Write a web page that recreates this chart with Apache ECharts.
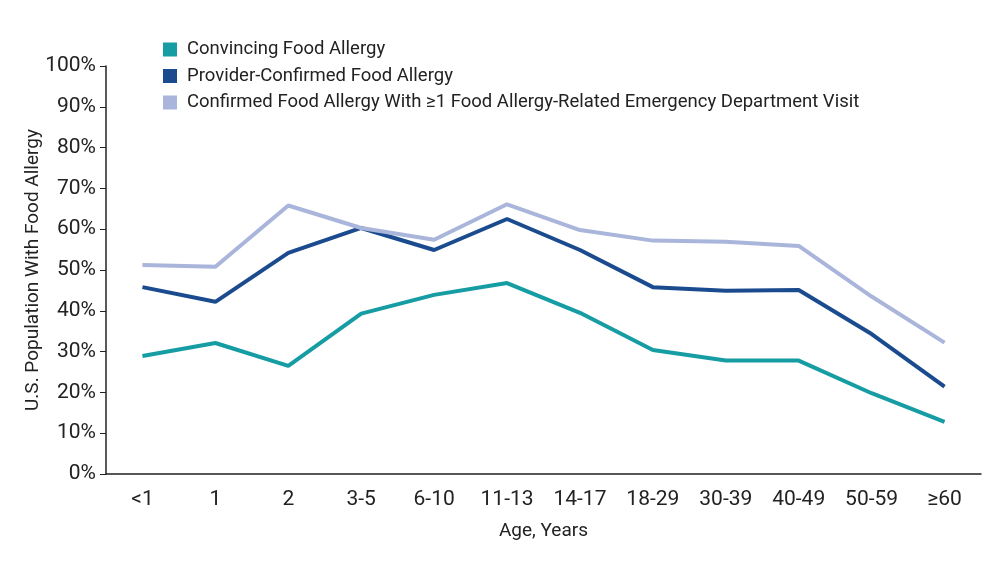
<!DOCTYPE html>
<html><head><meta charset="utf-8">
<script src="https://cdn.jsdelivr.net/npm/echarts@6/dist/echarts.min.js"></script>
<style>html,body{margin:0;padding:0;background:#fff}#c{width:1000px;height:563px}</style>
</head><body><div id="c"></div>
<script>
const categories = ['<1','1','2','3-5','6-10','11-13','14-17','18-29','30-39','40-49','50-59','≥60'];
const convincing = [28.9,32.1,26.5,39.3,43.9,46.8,39.5,30.4,27.8,27.8,19.8,12.8];
const providerConfirmed = [45.8,42.2,54.2,60.3,54.9,62.5,54.9,45.8,44.9,45.1,34.3,21.4];
const edVisit = [51.2,50.8,65.8,60.3,57.4,66.1,59.8,57.2,56.9,55.9,43.5,32.2];
const seriesNames = ['Convincing Food Allergy','Provider-Confirmed Food Allergy','Confirmed Food Allergy With ≥1 Food Allergy-Related Emergency Department Visit'];
const FONT = '"Roboto", sans-serif';
const chart = echarts.init(document.getElementById('c'));
const mk = (name, data, color) => ({name, type:'line', data, symbol:'none', smooth:false,
  lineStyle:{width:4, color}, itemStyle:{color}});
chart.setOption({
  animation:false,
  textStyle:{fontFamily:FONT, color:'#222'},
  legend:{orient:'vertical', left:158, top:35, itemWidth:14, itemHeight:14, itemGap:7.5, icon:'rect',
    textStyle:{fontFamily:FONT, fontSize:18.5, color:'#222', padding:[0,0,0,5]}},
  grid:{left:106, right:19, top:66, bottom:89},
  xAxis:{type:'category', data:categories, boundaryGap:true,
    axisLine:{lineStyle:{color:'#222', width:1.5}}, axisTick:{show:false},
    axisLabel:{fontFamily:FONT, fontSize:21, color:'#222', margin:15},
    name:'Age, Years', nameLocation:'middle', nameGap:48,
    nameTextStyle:{fontFamily:FONT, fontSize:19, color:'#222'}},
  yAxis:{type:'value', min:0, max:100, interval:10,
    axisLine:{show:true, lineStyle:{color:'#222', width:1.5}},
    axisTick:{show:true, length:6, lineStyle:{color:'#222'}},
    splitLine:{show:false},
    axisLabel:{formatter:'{value}%', fontFamily:FONT, fontSize:21, color:'#222', margin:10},
    name:'U.S. Population With Food Allergy', nameLocation:'middle', nameGap:63, nameRotate:90,
    nameMoveOverlap:false,
    nameTextStyle:{fontFamily:FONT, fontSize:19, color:'#222'}},
  series:[
    mk(seriesNames[0], convincing, '#169ca3'),
    mk(seriesNames[1], providerConfirmed, '#1b4b8f'),
    mk(seriesNames[2], edVisit, '#a9b5da')
  ]
});
</script></body></html>
